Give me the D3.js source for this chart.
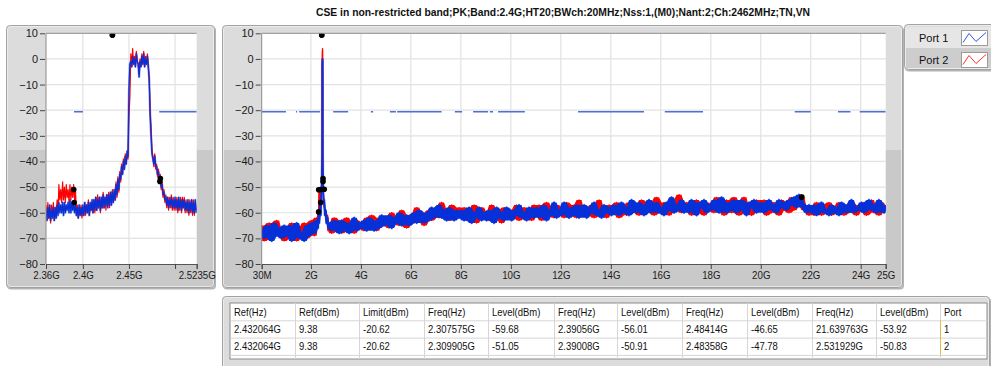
<!DOCTYPE html>
<html><head><meta charset="utf-8">
<script src="https://cdn.jsdelivr.net/npm/d3@7"></script>
<style>
html,body{margin:0;padding:0;background:#fff;overflow:hidden}
svg{display:block;font-family:"Liberation Sans",Arial,sans-serif}
</style></head><body>
<svg id="c" width="991" height="366"></svg>
<script>
// ---------------- DATA ----------------
const title = "CSE in non-restricted band;PK;Band:2.4G;HT20;BWch:20MHz;Nss:1,(M0);Nant:2;Ch:2462MHz;TN,VN";
const seriesNames = ["Port 1", "Port 2"];
const yTicks = [10, 0, -10, -20, -30, -40, -50, -60, -70, -80];
const leftXTicks = [2.36, 2.4, 2.45, 2.5, 2.5235];
const leftXLabels = ["2.36G", "2.4G", "2.45G", "", "2.5235G"];
const rightXTicks = [0.03, 2, 4, 6, 8, 10, 12, 14, 16, 18, 20, 22, 24, 25];
const rightXLabels = ["30M", "2G", "4G", "6G", "8G", "10G", "12G", "14G", "16G", "18G", "20G", "22G", "24G", "25G"];
const limitLevel = -20.62;
// limit line segments (GHz) as displayed
const leftLimitSegs = [[2.3904, 2.4001], [2.4829, 2.5235]];
const rightLimitSegs = [[0.03, 1.0], [1.40, 1.45], [1.53, 2.36], [2.89, 3.49], [4.40, 4.49], [5.16, 5.40],
  [5.45, 7.23], [7.76, 8.05], [8.49, 9.09], [9.16, 9.29], [9.49, 10.56], [12.69, 15.33], [16.16, 17.69],
  [21.36, 22.0], [23.09, 23.59], [23.96, 25.0]];

// left (zoomed) trace: start 2.360 GHz, step 0.001 GHz
const leftStart = 2.36, leftStep = 0.001;
const leftP1 = [
  -59,-63,-58,-62,-57,-63,-59,-62,-58,-63,
  -58,-62,-57,-61,-56,-60,-57,-60,-56,-61,
  -56,-60,-57,-59,-56,-60,-55,-60,-56,-59,
  -56,-60,-57,-61,-58,-62,-57,-61,-58,-61,
  -57,-61,-56,-60,-57,-60,-56,-61,-56,-59,
  -55,-60,-55,-59,-54,-59,-55,-58,-54,-59,
  -54,-58,-53,-58,-54,-57,-53,-58,-53,-57,
  -52,-57,-52,-56,-51,-55,-49,-53,-47,-51,
  -45,-47,-42,-45,-40,-43,-38,-41,-36,-38,
  -12,-2,-1,-3,1,-2,0,-3,2,-1,
  -2,-7,-1,-3,1,-2,2,-3,0,-2,
  1,-3,-8,-22,-30,-37,-39,-41,-38,-42,
  -42,-45,-44,-47,-46,-50,-49,-53,-52,-55,
  -54,-57,-54,-58,-55,-57,-54,-58,-55,-58,
  -54,-58,-55,-59,-54,-58,-55,-59,-55,-58,
  -55,-59,-56,-59,-55,-60,-56,-59,-55,-60,
  -56,-60,-55,-60];
const leftP2 = [
  -57,-63,-56,-62,-58,-64,-57,-61,-56,-63,
  -58,-62,-55,-60,-49,-55,-51,-56,-48,-55,
  -50,-56,-49,-54,-51,-56,-49,-55,-50,-54,
  -49,-55,-51,-61,-57,-62,-58,-61,-57,-62,
  -58,-61,-56,-61,-57,-60,-55,-61,-57,-59,
  -56,-60,-55,-60,-54,-59,-53,-58,-54,-60,
  -55,-58,-52,-58,-54,-59,-53,-57,-52,-58,
  -52,-56,-51,-56,-52,-55,-48,-54,-46,-52,
  -44,-48,-41,-45,-39,-43,-37,-41,-37,-39,
  -22,-15,2,-3,4,-2,1,-3,3,-1,
  -2,-6,0,-3,2,-2,3,-3,1,-2,
  2,-3,-8,-20,-27,-36,-38,-42,-37,-43,
  -41,-46,-43,-48,-45,-51,-48,-54,-51,-56,
  -53,-58,-54,-59,-54,-58,-53,-59,-54,-59,
  -55,-59,-54,-60,-55,-59,-54,-60,-54,-58,
  -54,-60,-55,-60,-56,-61,-55,-60,-55,-61,
  -55,-61,-56,-59];

// right (full span) trace: start 0.03 GHz, step 0.1 GHz
const rightStart = 0.03, rightStep = 0.1;
const rightP1 = [
  -67,-70,-65,-68,-71,-64,-69,-66,-70,-65,
  -69,-65,-71,-67,-64,-70,-68,-71,-65,-69,
  -64,-68,-63,-60,-50,-52,-62,-64,-67,-63,
  -66,-68,-63,-67,-64,-68,-65,-62,-67,-64,
  -66,-63,-67,-62,-65,-67,-63,-66,-61,-65,
  -64,-61,-66,-62,-64,-60,-65,-63,-61,-65,
  -63,-60,-64,-59,-62,-64,-60,-63,-58,-62,
  -60,-57,-62,-59,-63,-58,-61,-63,-59,-62,
  -59,-63,-61,-58,-64,-60,-62,-58,-63,-60,
  -63,-59,-61,-64,-58,-62,-60,-63,-58,-61,
  -63,-59,-61,-57,-62,-60,-63,-58,-61,-62,
  -58,-62,-60,-57,-63,-59,-61,-56,-62,-59,
  -61,-56,-60,-62,-58,-61,-57,-62,-59,-57,
  -62,-58,-60,-56,-61,-59,-62,-57,-60,-58,
  -61,-57,-59,-61,-56,-60,-58,-61,-55,-59,
  -60,-56,-59,-61,-57,-55,-60,-58,-56,-60,
  -58,-61,-56,-59,-54,-60,-57,-59,-55,-60,
  -57,-60,-55,-59,-61,-56,-58,-55,-60,-57,
  -59,-55,-58,-60,-54,-57,-60,-56,-59,-55,
  -60,-57,-55,-59,-61,-56,-58,-55,-60,-57,
  -56,-60,-58,-55,-59,-57,-60,-55,-58,-56,
  -59,-55,-57,-54,-58,-53,-56,-58,-60,-57,
  -60,-57,-61,-58,-56,-60,-59,-61,-57,-60,
  -58,-61,-56,-59,-60,-57,-55,-60,-58,-59,
  -56,-60,-58,-55,-59,-57,-60,-55,-58,-60,-57];
const rightP2 = [
  -65,-71,-67,-64,-70,-66,-63,-69,-67,-71,
  -66,-70,-64,-69,-71,-66,-68,-64,-70,-67,
  -63,-69,-62,-55,-49,-50,-60,-65,-68,-62,
  -67,-63,-68,-65,-62,-67,-64,-68,-63,-66,
  -64,-67,-62,-66,-61,-64,-67,-62,-65,-63,
  -62,-66,-60,-64,-62,-65,-59,-63,-66,-61,
  -61,-64,-58,-63,-60,-65,-61,-59,-63,-60,
  -58,-62,-56,-61,-59,-63,-57,-60,-62,-58,
  -61,-58,-63,-59,-62,-57,-64,-60,-58,-62,
  -60,-63,-57,-62,-59,-61,-64,-58,-62,-59,
  -59,-62,-57,-63,-60,-58,-62,-59,-63,-57,
  -61,-57,-63,-59,-56,-61,-58,-62,-57,-60,
  -58,-62,-56,-60,-61,-57,-62,-55,-60,-61,
  -59,-61,-57,-62,-58,-55,-61,-59,-62,-57,
  -58,-60,-56,-62,-59,-57,-61,-56,-60,-58,
  -57,-61,-55,-58,-60,-56,-59,-61,-54,-59,
  -60,-56,-58,-61,-55,-59,-57,-53,-60,-58,
  -56,-59,-61,-57,-55,-60,-58,-61,-56,-59,
  -57,-60,-54,-59,-56,-61,-55,-58,-60,-54,
  -58,-61,-56,-54,-60,-58,-61,-57,-55,-59,
  -59,-55,-61,-57,-60,-56,-58,-61,-55,-59,
  -57,-60,-54,-59,-55,-57,-53,-59,-58,-61,
  -58,-61,-56,-59,-61,-57,-60,-56,-61,-58,
  -60,-56,-59,-61,-57,-60,-56,-58,-61,-57,
  -59,-56,-61,-57,-55,-60,-58,-61,-56,-59,-58];
// detail around the carrier in the full-span view (replaces 2.28–2.70 GHz of the grid above)
const rightPeakWindow = [2.28, 2.70];
const rightPeakFreq = [2.28,2.31,2.33,2.36,2.39,2.41,2.43,2.44,2.449,2.452,2.456,2.46,2.464,2.468,2.471,2.474,2.48,2.49,2.51,2.53,2.56,2.59,2.62,2.66,2.69];
const rightPeakP1 = [-66,-61,-64,-57,-61,-54,-50,-45,-38,-2,-1,-1,0,-1,-6,-38,-46,-52,-56,-55,-61,-59,-64,-62,-66];
const rightPeakP2 = [-65,-59,-51,-57,-52,-55,-49,-44,-37,0,3,1,4,2,-6,-36,-45,-50,-55,-57,-59,-60,-63,-61,-67];

// result table
const tableHeaders = ["Ref(Hz)", "Ref(dBm)", "Limit(dBm)", "Freq(Hz)", "Level(dBm)", "Freq(Hz)", "Level(dBm)", "Freq(Hz)", "Level(dBm)", "Freq(Hz)", "Level(dBm)", "Port"];
const tableRows = [
  ["2.432064G", "9.38", "-20.62", "2.307575G", "-59.68", "2.39056G", "-56.01", "2.48414G", "-46.65", "21.639763G", "-53.92", "1"],
  ["2.432064G", "9.38", "-20.62", "2.309905G", "-51.05", "2.39008G", "-50.91", "2.48358G", "-47.78", "2.531929G", "-50.83", "2"]
];

// ---------------- LAYOUT / STYLE ----------------
const colors = { p1: "#0630d8", p1fringe: "#7b95ee", p2: "#ff0000", limit: "#4d6fd6", grid: "#e2e2e2" };
const yRange = [264, 33.3];
const leftPlot = { x0: 46, x1: 196.7 };
const rightPlot = { x0: 261.7, x1: 885.7 };
const colWidths = [65, 64, 65, 64, 66, 63, 65, 65, 65, 64, 64, 47];

const svg = d3.select("#c");
const defs = svg.append("defs");

function condense(sel, k) {
  sel.each(function () {
    const w = this.getComputedTextLength();
    d3.select(this).attr("textLength", w * k).attr("lengthAdjust", "spacingAndGlyphs");
  });
}

function panel(g, x, y, w, h, split) {
  const id = "pc" + Math.round(x) + "_" + Math.round(y);
  defs.append("clipPath").attr("id", id).append("rect")
    .attr("x", x).attr("y", y).attr("width", w).attr("height", h).attr("rx", 4);
  g.append("rect").attr("x", x + 1).attr("y", y + 1.5).attr("width", w).attr("height", h)
    .attr("rx", 4).attr("fill", "#b4b4b4");
  const inner = g.append("g").attr("clip-path", `url(#${id})`);
  inner.append("rect").attr("x", x).attr("y", y).attr("width", w).attr("height", h).attr("fill", "#dcdcdc");
  if (split != null) inner.append("rect").attr("x", x).attr("y", split).attr("width", w).attr("height", y + h - split).attr("fill", "#c9c9c9");
  g.append("rect").attr("x", x + 0.5).attr("y", y + 0.5).attr("width", w - 1).attr("height", h - 1)
    .attr("rx", 4).attr("fill", "none").attr("stroke", "#a2a2a2");
  g.append("rect").attr("x", x + 1.5).attr("y", y + 1.5).attr("width", w - 3).attr("height", h - 3)
    .attr("rx", 3).attr("fill", "none").attr("stroke", "#f2f2f2").attr("stroke-opacity", 0.7);
}

// title
svg.append("text").attr("x", 563).attr("y", 16).attr("text-anchor", "middle")
  .attr("font-size", 11).attr("font-weight", "bold").attr("fill", "#111")
  .attr("textLength", 494).attr("lengthAdjust", "spacingAndGlyphs").text(title);

// panels
panel(svg.append("g"), 6, 25, 209, 263, 150);
panel(svg.append("g"), 222, 25, 681, 263, 150);

function buildTrace(freqs, vals) { return freqs.map((f, i) => [f, vals[i]]); }

const leftFreqs = leftP1.map((_, i) => leftStart + i * leftStep);
const rightFreqs = rightP1.map((_, i) => rightStart + i * rightStep);
function mergePeak(vals, peakVals) {
  const base = rightFreqs.map((f, i) => [f, vals[i]])
    .filter(d => d[0] < rightPeakWindow[0] || d[0] > rightPeakWindow[1]);
  return base.concat(rightPeakFreq.map((f, i) => [f, peakVals[i]])).sort((a, b) => a[0] - b[0]);
}
// min/max envelope of neighbouring samples (how a peak-detect display fills the trace)
function envelope(tr) {
  return tr.map((d, i) => {
    const w = tr.slice(Math.max(0, i - 1), i + 2).map(p => p[1]);
    return [d[0], d3.min(w), d3.max(w)];
  });
}

const parseG = s => parseFloat(s);
const markers = tableRows.map(r => [
  [parseG(r[0]), parseFloat(r[1])],
  [parseG(r[3]), parseFloat(r[4])],
  [parseG(r[5]), parseFloat(r[6])],
  [parseG(r[7]), parseFloat(r[8])],
  [parseG(r[9]), parseFloat(r[10])]
]).flat();

function drawChart(cfg) {
  const x = d3.scaleLinear().domain(cfg.domain).range([cfg.plot.x0, cfg.plot.x1]);
  const y = d3.scaleLinear().domain([-80, 10]).range(yRange);
  const g = svg.append("g");
  const cid = "clip" + cfg.name;
  defs.append("clipPath").attr("id", cid).append("rect")
    .attr("x", cfg.plot.x0).attr("y", yRange[1]).attr("width", cfg.plot.x1 - cfg.plot.x0).attr("height", yRange[0] - yRange[1]);
  g.append("rect").attr("x", cfg.plot.x0).attr("y", yRange[1]).attr("width", cfg.plot.x1 - cfg.plot.x0)
    .attr("height", yRange[0] - yRange[1]).attr("fill", "#fff");
  // grid
  g.append("g").selectAll("line").data(cfg.vgrid).join("line")
    .attr("x1", d => x(d)).attr("x2", d => x(d)).attr("y1", yRange[1]).attr("y2", yRange[0])
    .attr("stroke", colors.grid).attr("stroke-width", 1.2);
  g.append("g").selectAll("line").data(yTicks.slice(1, -1)).join("line")
    .attr("x1", cfg.plot.x0).attr("x2", cfg.plot.x1).attr("y1", d => y(d)).attr("y2", d => y(d))
    .attr("stroke", colors.grid).attr("stroke-width", 1.2);
  const pg = g.append("g").attr("clip-path", `url(#${cid})`);
  // limit line
  pg.append("g").selectAll("line").data(cfg.limitSegs).join("line")
    .attr("x1", d => x(d[0])).attr("x2", d => x(d[1])).attr("y1", y(limitLevel)).attr("y2", y(limitLevel))
    .attr("stroke", colors.limit).attr("stroke-width", 1.4);
  const line = d3.line().x(d => x(d[0])).y(d => y(d[1]));
  const area = d3.area().x(d => x(d[0])).y0(d => y(d[1])).y1(d => y(d[2]));
  pg.append("path").datum(cfg.trace1).attr("d", line).attr("fill", "none")
    .attr("stroke", colors.p1fringe).attr("stroke-width", cfg.sw + 1.0).attr("stroke-linejoin", "round");
  if (cfg.fill) pg.append("path").datum(envelope(cfg.trace2)).attr("d", area).attr("fill", colors.p2);
  pg.append("path").datum(cfg.trace2).attr("d", line).attr("fill", "none").attr("stroke", colors.p2)
    .attr("stroke-width", cfg.sw2).attr("stroke-linejoin", "round");
  if (cfg.fill) pg.append("path").datum(envelope(cfg.trace1)).attr("d", area).attr("fill", colors.p1);
  pg.append("path").datum(cfg.trace1).attr("d", line).attr("fill", "none").attr("stroke", colors.p1)
    .attr("stroke-width", cfg.sw).attr("stroke-linejoin", "round");
  // markers
  pg.append("g").selectAll("circle").data(markers.filter(d => d[0] >= cfg.domain[0] && d[0] <= cfg.domain[1])).join("circle")
    .attr("cx", d => x(d[0])).attr("cy", d => y(d[1])).attr("r", 2.8).attr("fill", "#000");
  // border
  g.append("path").attr("d", `M${cfg.plot.x0},${yRange[0]}V${yRange[1]}H${cfg.plot.x1}`)
    .attr("fill", "none").attr("stroke", "#8c8c8c");
  // axes
  const ya = g.append("g").attr("transform", `translate(${cfg.plot.x0 - 1},0)`)
    .call(d3.axisLeft(y).tickValues(yTicks).tickSize(5).tickPadding(2).tickFormat(d3.format("d")));
  const xa = g.append("g").attr("transform", `translate(0,${yRange[0]})`)
    .call(d3.axisBottom(x).tickValues(cfg.ticks).tickSize(5).tickPadding(2).tickFormat((d, i) => cfg.labels[i]));
  [ya, xa].forEach(a => {
    a.select(".domain").attr("stroke", "#555");
    a.selectAll(".tick line").attr("stroke", "#444");
    a.selectAll("text").attr("font-size", 11).attr("fill", "#1a1a1a").attr("font-family", "Liberation Sans, Arial, sans-serif");
  });
  condense(xa.selectAll("text").filter(function () { return this.textContent.length > 0; }), 0.88);
  ya.select(".domain").remove();
}

drawChart({
  name: "L", domain: [2.36, 2.5235], plot: leftPlot, ticks: leftXTicks, labels: leftXLabels, sw: 1.2, sw2: 1.2, fill: false,
  vgrid: [2.4, 2.45, 2.5], limitSegs: leftLimitSegs,
  trace1: buildTrace(leftFreqs, leftP1), trace2: buildTrace(leftFreqs, leftP2)
});
drawChart({
  name: "R", domain: [0.03, 25], plot: rightPlot, ticks: rightXTicks, labels: rightXLabels, sw: 1.6, sw2: 1.4, fill: true,
  vgrid: rightXTicks.slice(1, -1), limitSegs: rightLimitSegs,
  trace1: mergePeak(rightP1, rightPeakP1), trace2: mergePeak(rightP2, rightPeakP2)
});

// legend
{
  const g = svg.append("g");
  panel(g, 904, 24, 92, 46, null);
  g.append("rect").attr("x", 906).attr("y", 27).attr("width", 90).attr("height", 21).attr("fill", "#e6e6e6");
  g.append("rect").attr("x", 906).attr("y", 48).attr("width", 90).attr("height", 20).attr("fill", "#cdcdcd");
  seriesNames.forEach((n, i) => {
    const yc = 37.5 + i * 22;
    g.append("text").attr("x", 919).attr("y", yc + 4).attr("font-size", 11).attr("fill", "#111").text(n);
    g.append("rect").attr("x", 961.5).attr("y", yc - 7).attr("width", 26).attr("height", 15)
      .attr("fill", "#fff").attr("stroke", "#9a9a9a");
    g.append("path").attr("d", `M963,${yc + 5}L969,${yc - 4}L976,${yc + 4}L986,${yc - 5}`)
      .attr("fill", "none").attr("stroke", i ? "#ff3030" : "#3355dd").attr("stroke-width", 1);
  });
}

// table
{
  const g = svg.append("g");
  panel(g, 222, 296, 768, 76, null);
  const tx = 230, ty = 303, rowH = 17.3;
  const totalW = d3.sum(colWidths);
  g.append("rect").attr("x", tx).attr("y", ty).attr("width", totalW).attr("height", 56).attr("fill", "#fff")
    .attr("stroke", "#8a8a8a");
  const lefts = colWidths.map((w, i) => tx + d3.sum(colWidths.slice(0, i)));
  g.append("g").selectAll("line").data(lefts.slice(1)).join("line")
    .attr("x1", d => d + 0.5).attr("x2", d => d + 0.5).attr("y1", ty).attr("y2", ty + 56)
    .attr("stroke", "#d6d6d6");
  g.append("g").selectAll("line").data([1, 2, 3]).join("line")
    .attr("x1", tx).attr("x2", tx + totalW).attr("y1", d => ty + d * rowH + 0.5).attr("y2", d => ty + d * rowH + 0.5)
    .attr("stroke", "#d6d6d6");
  g.append("line").attr("x1", lefts[11] + 0.5).attr("x2", lefts[11] + 0.5).attr("y1", ty + rowH).attr("y2", ty + 3 * rowH)
    .attr("stroke", "#e8b84a");
  const rows = [tableHeaders].concat(tableRows);
  rows.forEach((r, ri) => {
    const t = g.append("g").selectAll("text").data(r).join("text")
      .attr("x", (d, i) => lefts[i] + 4).attr("y", ty + ri * rowH + 12.5)
      .attr("font-size", 11).attr("fill", "#111").text(d => d);
    condense(t, 0.86);
  });
}
</script>
</body></html>
